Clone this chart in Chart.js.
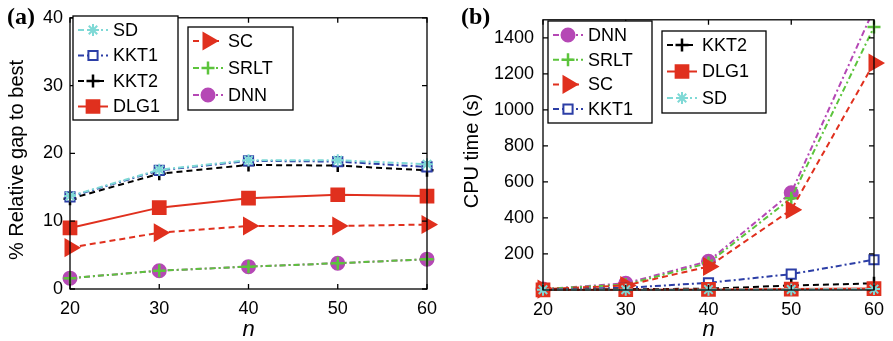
<!DOCTYPE html>
<html>
<head>
<meta charset="utf-8">
<script src="https://cdn.jsdelivr.net/npm/chart.js@4.4.0/dist/chart.umd.min.js"></script>
<style>
  body { margin: 0; background: #fff; }
  .panel { position: absolute; top: 0; }
  #panelA { left: 0; }
  #panelB { left: 450px; }
</style>
</head>
<body>
<div class="panel" id="panelA"><canvas id="gapChart" width="450" height="341"></canvas></div>
<div class="panel" id="panelB"><canvas id="timeChart" width="443" height="341"></canvas></div>
<script>
// problem sizes n and tick labels
const sizes = [20, 30, 40, 50, 60];
const xTicks = [20, 30, 40, 50, 60];
const gapTicks = [0, 10, 20, 30, 40];
const timeTicks = [200, 400, 600, 800, 1000, 1200, 1400];

// (a) % relative gap to best
const gapSD   = [13.7, 17.6, 19.0, 19.0, 18.4];
const gapKKT1 = [13.6, 17.5, 18.9, 18.8, 18.0];
const gapKKT2 = [13.3, 17.0, 18.3, 18.2, 17.5];
const gapDLG1 = [9.0, 12.0, 13.4, 13.9, 13.7];
const gapSC   = [6.1, 8.3, 9.3, 9.3, 9.5];
const gapSRLT = [1.6, 2.7, 3.3, 3.8, 4.4];
const gapDNN  = [1.6, 2.7, 3.3, 3.8, 4.4];

// (b) CPU time (s)
const timeDNN  = [5, 37, 160, 540, 1560];
const timeSRLT = [5, 30, 150, 510, 1460];
const timeSC   = [5, 25, 130, 445, 1260];
const timeKKT1 = [3, 12, 40, 88, 168];
const timeKKT2 = [2, 5, 7, 25, 37];
const timeDLG1 = [1, 2, 3, 5, 8];
const timeSD   = [1, 1, 2, 3, 5];

// look of each method
const styles = {
  SD:   { color: "#7fd9d6", dash: [6, 3, 2, 3], point: "star", r: 6, bg: "#7fd9d6", bw: 2 },
  KKT1: { color: "#2c3ea6", dash: [6, 3, 2, 3], point: "rect", r: 6.5, bg: "#fff", bw: 2 },
  KKT2: { color: "#000000", dash: [6, 4], point: "cross", r: 6.5, bg: "#000", bw: 2.5 },
  DLG1: { color: "#e0301e", dash: [], point: "rect", r: 9, bg: "#e0301e", bw: 2 },
  SC:   { color: "#e0301e", dash: [6, 4], point: "triangle", r: 9, bg: "#e0301e", bw: 2, rot: 90 },
  SRLT: { color: "#5cc43c", dash: [6, 3, 2, 3], point: "cross", r: 6.5, bg: "#5cc43c", bw: 2.5 },
  DNN:  { color: "#b548b5", dash: [6, 3, 2, 3], point: "circle", r: 6.5, bg: "#b548b5", bw: 2 },
};

const makeSet = (name, values, clip) => {
  const s = styles[name];
  return {
    label: name,
    data: values.map((v, i) => ({ x: sizes[i], y: v })),
    borderColor: s.color,
    borderWidth: 2,
    borderDash: s.dash,
    pointStyle: s.point,
    pointRadius: s.r,
    pointRotation: s.rot || 0,
    pointBackgroundColor: s.bg,
    pointBorderColor: s.color,
    pointBorderWidth: s.bw,
    tension: 0,
    fill: false,
    clip: clip,
  };
};

const sansFont = "'Liberation Sans', Arial, sans-serif";
const tickFont = { family: sansFont, size: 18 };
const clipA = false;
const clipB = { left: 20, top: 0, right: 20, bottom: 20 };

// box, inward ticks on all four sides
const framePlugin = {
  id: "frame",
  afterDatasetsDraw(chart) {
    const { ctx, chartArea: a, scales } = chart;
    ctx.save();
    ctx.strokeStyle = "#000";
    ctx.lineWidth = 1.3;
    ctx.setLineDash([]);
    ctx.strokeRect(a.left, a.top, a.right - a.left, a.bottom - a.top);
    ctx.beginPath();
    scales.x.ticks.forEach((t) => {
      const px = scales.x.getPixelForValue(t.value);
      ctx.moveTo(px, a.bottom); ctx.lineTo(px, a.bottom - 5);
      ctx.moveTo(px, a.top); ctx.lineTo(px, a.top + 5);
    });
    scales.y.ticks.forEach((t) => {
      const py = scales.y.getPixelForValue(t.value);
      ctx.moveTo(a.left, py); ctx.lineTo(a.left + 5, py);
      ctx.moveTo(a.right, py); ctx.lineTo(a.right - 5, py);
    });
    ctx.stroke();
    ctx.restore();
  },
};

// the boxed legends, axis titles and the panel letter
const boxLegendPlugin = {
  id: "boxLegend",
  afterDraw(chart, args, opts) {
    const ctx = chart.ctx;
    const a = chart.chartArea;
    ctx.save();
    ctx.fillStyle = "#000";
    ctx.textBaseline = "middle";
    ctx.textAlign = "left";
    ctx.font = "bold 24px 'Liberation Serif', 'Times New Roman', serif";
    ctx.fillText(opts.panel, opts.panelX, 18);

    ctx.textAlign = "center";
    ctx.font = "italic 22px " + sansFont;
    ctx.fillText("n", (a.left + a.right) / 2, 330);

    ctx.save();
    ctx.translate(opts.titleX, opts.titleY);
    ctx.rotate(-Math.PI / 2);
    ctx.font = "20px " + sansFont;
    ctx.fillText(opts.title, 0, 0);
    ctx.restore();

    ctx.textAlign = "left";
    opts.boxes.forEach((b) => {
      ctx.setLineDash([]);
      ctx.fillStyle = "#fff";
      ctx.fillRect(b.left, b.top, b.width, b.height);
      ctx.strokeStyle = "#000";
      ctx.lineWidth = 1.3;
      ctx.strokeRect(b.left, b.top, b.width, b.height);
      b.names.forEach((name, i) => {
        const s = styles[name];
        const y = b.top + 14 + i * b.step;
        const x0 = b.left + 5;
        ctx.strokeStyle = s.color;
        ctx.lineWidth = 2;
        ctx.setLineDash(s.dash);
        ctx.beginPath();
        ctx.moveTo(x0, y);
        ctx.lineTo(x0 + 30, y);
        ctx.stroke();
        ctx.setLineDash([]);
        ctx.fillStyle = s.bg;
        ctx.strokeStyle = s.color;
        ctx.lineWidth = s.bw;
        Chart.helpers.drawPoint(ctx, { pointStyle: s.point, radius: s.r, rotation: s.rot || 0, borderWidth: s.bw }, x0 + 15, y);
        ctx.fillStyle = "#000";
        ctx.font = "18px " + sansFont;
        ctx.fillText(name, b.left + 40, y + 1);
      });
    });
    ctx.restore();
  },
};

const makeOptions = (cfg) => ({
  responsive: false,
  animation: false,
  layout: { padding: cfg.padding },
  plugins: {
    legend: { display: false },
    tooltip: { enabled: false },
    boxLegend: cfg.legend,
  },
  scales: {
    x: {
      type: "linear",
      min: 20,
      max: 60,
      afterBuildTicks: (scale) => { scale.ticks = xTicks.map((v) => ({ value: v })); },
      afterFit: (scale) => { scale.height = cfg.xHeight; },
      grid: { display: false, drawTicks: false },
      border: { display: false },
      ticks: { font: tickFont, color: "#000", padding: 9, maxRotation: 0, callback: (v) => String(v) },
    },
    y: {
      type: "linear",
      min: cfg.yMin,
      max: cfg.yMax,
      afterBuildTicks: (scale) => { scale.ticks = cfg.yTicks.map((v) => ({ value: v })); },
      afterFit: (scale) => { scale.width = cfg.yWidth; },
      grid: { display: false, drawTicks: false },
      border: { display: false },
      ticks: { font: tickFont, color: "#000", padding: cfg.yPad, callback: (v) => String(v) },
    },
  },
});

new Chart(document.getElementById("gapChart").getContext("2d"), {
  type: "line",
  data: {
    datasets: [
      makeSet("SD", gapSD, clipA),
      makeSet("KKT1", gapKKT1, clipA),
      makeSet("KKT2", gapKKT2, clipA),
      makeSet("DLG1", gapDLG1, clipA),
      makeSet("SC", gapSC, clipA),
      makeSet("SRLT", gapSRLT, clipA),
      makeSet("DNN", gapDNN, clipA),
    ],
  },
  options: makeOptions({
    padding: { left: 0, top: 15, right: 23, bottom: 0 },
    xHeight: 52,
    yWidth: 70,
    yPad: 7,
    yMin: 0,
    yMax: 40,
    yTicks: gapTicks,
    legend: {
      panel: "(a)",
      panelX: 7,
      title: "% Relative gap to best",
      titleX: 17,
      titleY: 160,
      boxes: [
        { left: 73, top: 16, width: 105, height: 104, step: 25.5, names: ["SD", "KKT1", "KKT2", "DLG1"] },
        { left: 188, top: 27, width: 105, height: 83, step: 27, names: ["SC", "SRLT", "DNN"] },
      ],
    },
  }),
  plugins: [framePlugin, boxLegendPlugin],
});

new Chart(document.getElementById("timeChart").getContext("2d"), {
  type: "line",
  data: {
    datasets: [
      makeSet("SD", timeSD, clipB),
      makeSet("DLG1", timeDLG1, clipB),
      makeSet("KKT2", timeKKT2, clipB),
      makeSet("KKT1", timeKKT1, clipB),
      makeSet("SC", timeSC, clipB),
      makeSet("SRLT", timeSRLT, clipB),
      makeSet("DNN", timeDNN, clipB),
    ],
  },
  options: makeOptions({
    padding: { left: 0, top: 19, right: 13, bottom: 0 },
    xHeight: 51,
    yWidth: 93,
    yPad: 9,
    yMin: 0,
    yMax: 1500,
    yTicks: timeTicks,
    legend: {
      panel: "(b)",
      panelX: 11,
      title: "CPU time (s)",
      titleX: 22,
      titleY: 151,
      boxes: [
        { left: 98, top: 21, width: 104, height: 102, step: 24.7, names: ["DNN", "SRLT", "SC", "KKT1"] },
        { left: 212, top: 31, width: 104, height: 82, step: 26.5, names: ["KKT2", "DLG1", "SD"] },
      ],
    },
  }),
  plugins: [framePlugin, boxLegendPlugin],
});
</script>
</body>
</html>
